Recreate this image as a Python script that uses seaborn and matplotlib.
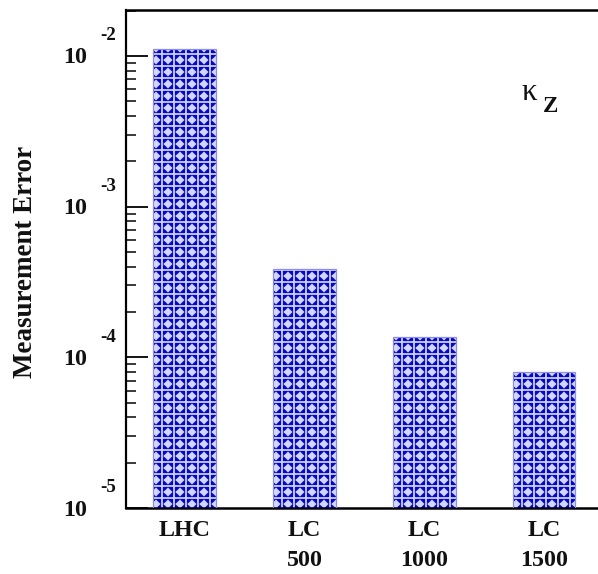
import numpy as np
import pandas as pd
import matplotlib
matplotlib.use("Agg")
import matplotlib.pyplot as plt
import matplotlib.hatch as mhatch
from matplotlib.path import Path
from matplotlib.ticker import LogLocator, NullFormatter, FixedLocator
import seaborn as sns

# Measurement error on kappa_Z for each collider option
colliders = ["LHC", "LC\n500", "LC\n1000", "LC\n1500"]
errors = [1.11e-2, 3.85e-4, 1.36e-4, 8.0e-5]
decades = [-5, -4, -3, -2]


class CornerCuts(mhatch.HatchPatternBase):
    """Small diamonds round every grid crossing; with '+' this turns the
    grid cells into octagons."""

    def __init__(self, hatch, density):
        self.num_lines = int(hatch.count("*") * density)
        self.num_vertices = (self.num_lines + 1) ** 2 * 5 if self.num_lines else 0

    def set_vertices_and_codes(self, vertices, codes):
        n = self.num_lines
        r = 0.27 / n
        pts = []
        for i in range(n + 1):
            for j in range(n + 1):
                cx, cy = i / n, j / n
                pts += [(cx - r, cy), (cx, cy + r), (cx + r, cy),
                        (cx, cy - r), (cx - r, cy)]
        vertices[:] = np.array(pts)
        codes[:] = Path.LINETO
        codes[0::5] = Path.MOVETO


mhatch._hatch_types[:] = [t for t in mhatch._hatch_types
                          if t is not mhatch.Stars] + [CornerCuts]

sns.set_theme(style="white")
plt.rcParams["font.family"] = ["Liberation Serif", "DejaVu Serif"]
plt.rcParams["hatch.linewidth"] = 1.8

DPI = 72
fig = plt.figure(figsize=(598 / DPI, 574 / DPI), dpi=DPI)
ax = fig.add_axes([126 / 598, 66 / 574, 1 - 126 / 598 + 0.002, (508 - 10) / 574])

df = pd.DataFrame({"collider": colliders, "error": errors})
sns.barplot(data=df, x="collider", y="error", color="#0000ff", saturation=1,
            width=0.523, hatch="+*", edgecolor="#d2d8ff", linewidth=0, ax=ax)

# thin light outline round each bar
for p in list(ax.patches):
    ax.bar(p.get_x(), p.get_height(), width=p.get_width(), bottom=p.get_y(),
           align="edge", fill=False, edgecolor="#8a8aff", linewidth=1.2, zorder=3)

ax.set_yscale("log")
ax.set_ylim(1e-5, 10 ** -1.695)
ax.set_xlim(-0.4895, 3.460)

ax.yaxis.set_major_locator(FixedLocator([10.0 ** d for d in decades]))
ax.yaxis.set_minor_locator(LogLocator(base=10, subs=np.arange(2, 10)))
ax.yaxis.set_major_formatter(NullFormatter())
ax.yaxis.set_minor_formatter(NullFormatter())
ax.tick_params(axis="y", which="major", direction="in", length=22, width=1.8,
               color="black", left=True)
ax.tick_params(axis="y", which="minor", direction="in", length=10, width=1.5,
               color="black", left=True)
ax.tick_params(axis="x", which="both", length=0, pad=12)

for d in decades:
    ax.annotate("10", xy=(0, 10.0 ** d), xycoords=("axes fraction", "data"),
                xytext=(-39, -2), textcoords="offset points", ha="right",
                va="center", fontsize=24, fontweight="bold", color="#111111")
    ax.annotate(f"-{abs(d)}", xy=(0, 10.0 ** d), xycoords=("axes fraction", "data"),
                xytext=(-26, 20), textcoords="offset points", ha="left",
                va="center", fontsize=19, fontweight="bold", color="#111111")

ax.set_xticks(range(len(colliders)))
ax.set_xticklabels(colliders, fontsize=24, fontweight="bold", color="#111111",
                   linespacing=1.55)
ax.set_xlabel("")
ax.set_ylabel("Measurement Error", fontsize=27, fontweight="bold",
              color="#111111", labelpad=0)
ax.yaxis.set_label_coords(-(126 - 38) / (598 - 126), 0.5 - 3 / 498)

for side in ["left", "bottom", "top"]:
    ax.spines[side].set_visible(True)
    ax.spines[side].set_color("black")
ax.spines["left"].set_linewidth(2.2)
ax.spines["bottom"].set_linewidth(2.5)
ax.spines["top"].set_linewidth(2.5)
ax.spines["right"].set_visible(False)

ax.text(521 / 598, 1 - 93 / 574, "κ", transform=fig.transFigure, fontsize=31,
        ha="left", va="center", color="#111111")
ax.text(543 / 598, 1 - 107 / 574, "Z", transform=fig.transFigure, fontsize=23,
        fontweight="bold", ha="left", va="center", color="#111111")

fig.savefig("out.png", dpi=DPI)
